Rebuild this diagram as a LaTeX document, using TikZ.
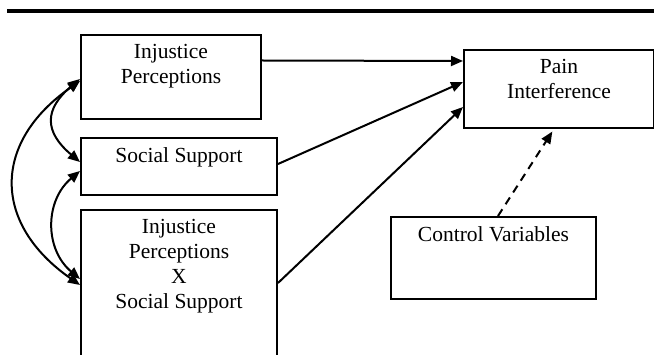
\documentclass[tikz,border=0pt]{standalone}
\usepackage{fontspec}
\setmainfont{Liberation Serif}
\usetikzlibrary{arrows.meta}

\begin{document}
\begin{tikzpicture}[
        x=1pt, y=-1pt,
        every node/.style={font=\fontsize{21.5}{25}\selectfont},
        box/.style={draw, rectangle, line width=2pt, anchor=north west, inner sep=0pt},
        box text/.style={anchor=north, align=center, inner sep=0pt},
        link/.style={line width=2pt, -{Triangle[length=12pt,width=10pt]}},
        both/.style={line width=2pt, {Triangle[length=12pt,width=10pt]}-{Triangle[length=12pt,width=10pt]}},
        control/.style={link, dash pattern=on 8pt off 6pt, shorten >=3pt}
    ]

    \useasboundingbox (0,0) rectangle (654,355);
    \clip (0,0) rectangle (654,355);
    \draw[line width=4pt] (7,11) -- (654,11);

    \node[box, minimum width=180pt, minimum height=84pt] (injustice) at (80,34) {};
    \node[box, minimum width=196pt, minimum height=57pt] (support) at (80,137) {};
    \node[box, minimum width=196pt, minimum height=160pt] (interaction) at (80,209) {};
    \node[box, minimum width=190pt, minimum height=78pt] (pain) at (463,49) {};
    \node[box, minimum width=205pt, minimum height=82pt] (controls) at (390,216) {};

    \node[box text] (injustice text) at ([yshift=-10pt]injustice.north) {Injustice\\Perceptions};
    \node[box text] (support text) at ([yshift=-10pt]support.north) {Social Support};
    \node[box text] (interaction text) at ([yshift=-10pt]interaction.north) {Injustice\\Perceptions\\X\\Social Support};
    \node[box text] (pain text) at ([yshift=-10pt]pain.north) {Pain\\Interference};
    \node[box text] (controls text) at ([yshift=-10pt]controls.north) {Control Variables};

    \draw[link] ([yshift=16.5pt]injustice.east) -- ([yshift=28pt]pain.west);
    \draw[link] ([yshift=2.5pt]support.east) -- ([yshift=7pt]pain.west);
    \draw[link] ([yshift=7pt]interaction.east) -- ([yshift=-18pt]pain.west);
    \draw[control] ([xshift=4.5pt]controls.north) -- ([xshift=-5pt]pain.south);

    \draw[both] ([yshift=-2pt]injustice.west) to[out=220, in=140, looseness=1.45] ([yshift=4.5pt]support.west);
    \draw[both] ([yshift=-4.5pt]support.west) to[out=220, in=140, looseness=1.1] ([yshift=11pt]interaction.west);
    \draw[both] ([yshift=-4pt]injustice.west) to[out=215, in=145, looseness=1.35] ([yshift=5pt]interaction.west);
\end{tikzpicture}
\end{document}
